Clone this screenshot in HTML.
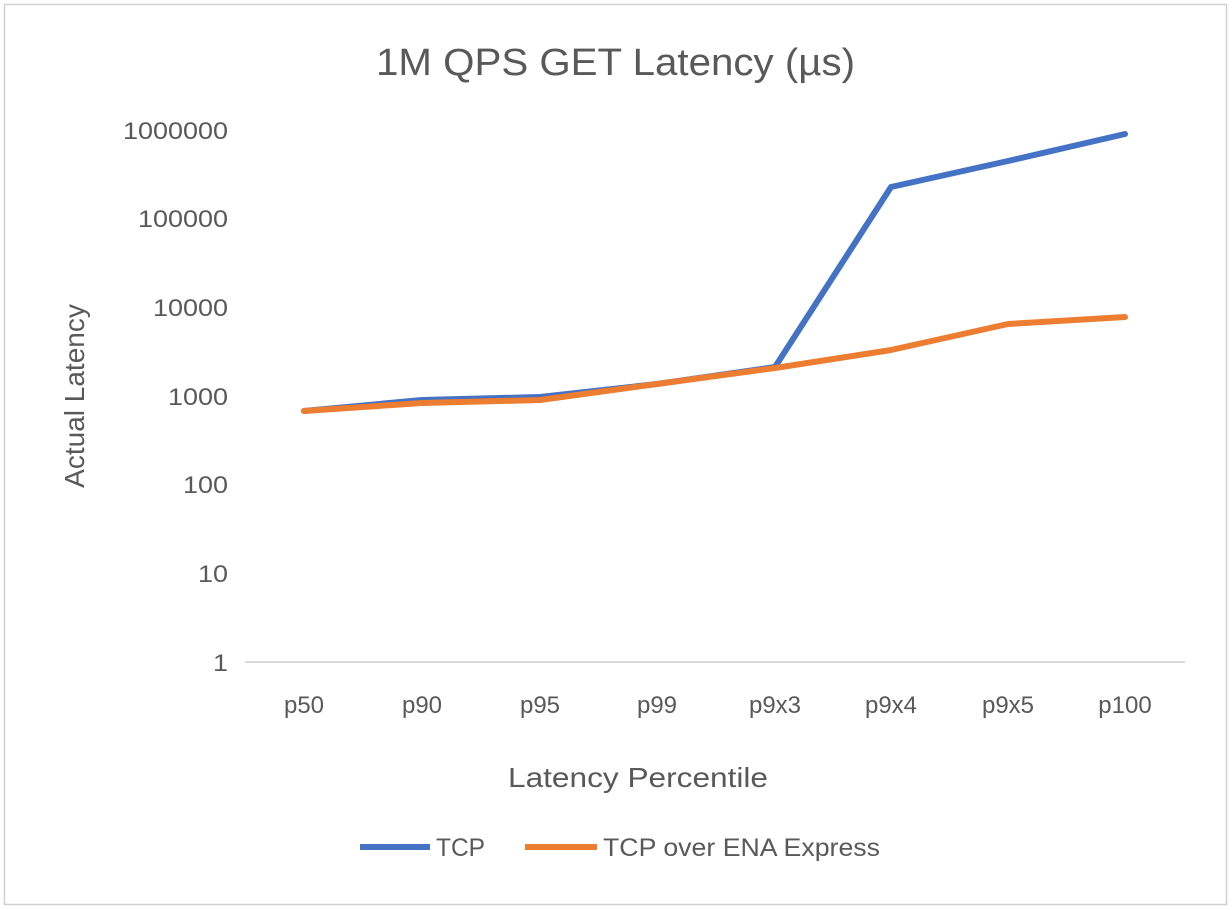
<!DOCTYPE html>
<html><head><meta charset="utf-8"><style>
html,body{margin:0;padding:0;background:#fff;}
svg{display:block;font-family:"Liberation Sans",Arial,sans-serif;}
</style></head><body>
<svg width="1232" height="910" viewBox="0 0 1232 910">
<rect x="4.5" y="4.5" width="1222" height="900" fill="#fff" stroke="#d0d0d0" stroke-width="1.5"/>
<text x="376" y="75" textLength="479" lengthAdjust="spacingAndGlyphs" font-size="38" fill="#595959">1M QPS GET Latency (µs)</text>
<line x1="245" y1="662" x2="1185" y2="662" stroke="#d9d9d9" stroke-width="2"/>
<g font-size="24" fill="#595959">
<text x="123" y="139" textLength="105" lengthAdjust="spacingAndGlyphs">1000000</text>
<text x="138" y="227" textLength="90" lengthAdjust="spacingAndGlyphs">100000</text>
<text x="153" y="316" textLength="75" lengthAdjust="spacingAndGlyphs">10000</text>
<text x="168" y="405" textLength="60" lengthAdjust="spacingAndGlyphs">1000</text>
<text x="183" y="493" textLength="45" lengthAdjust="spacingAndGlyphs">100</text>
<text x="198" y="582" textLength="30" lengthAdjust="spacingAndGlyphs">10</text>
<text x="213" y="671" textLength="15" lengthAdjust="spacingAndGlyphs">1</text>
</g>
<g font-size="24" fill="#595959" text-anchor="middle">
<text x="304" y="713">p50</text>
<text x="422" y="713">p90</text>
<text x="540" y="713">p95</text>
<text x="657" y="713">p99</text>
<text x="775" y="713">p9x3</text>
<text x="891" y="713">p9x4</text>
<text x="1008" y="713">p9x5</text>
<text x="1125" y="713">p100</text>
</g>
<text x="508" y="787" textLength="260" lengthAdjust="spacingAndGlyphs" font-size="28" fill="#595959">Latency Percentile</text>
<text transform="translate(84,396) rotate(-90)" text-anchor="middle" font-size="28" fill="#595959">Actual Latency</text>
<polyline points="304,411 422,400 540,397 657,384 775,367 891,187 1008,161 1125,134" fill="none" stroke="#4472c4" stroke-width="6" stroke-linejoin="round" stroke-linecap="round"/>
<polyline points="304,411 422,403 540,400 657,384 775,368 891,350 1008,324 1125,317" fill="none" stroke="#ed7d31" stroke-width="6" stroke-linejoin="round" stroke-linecap="round"/>
<line x1="360" y1="847" x2="430" y2="847" stroke="#4472c4" stroke-width="6"/>
<text x="436" y="856" textLength="49" lengthAdjust="spacingAndGlyphs" font-size="25" fill="#595959">TCP</text>
<line x1="525" y1="847" x2="597" y2="847" stroke="#ed7d31" stroke-width="6"/>
<text x="603" y="856" textLength="277" lengthAdjust="spacingAndGlyphs" font-size="25" fill="#595959">TCP over ENA Express</text>
</svg>
</body></html>
